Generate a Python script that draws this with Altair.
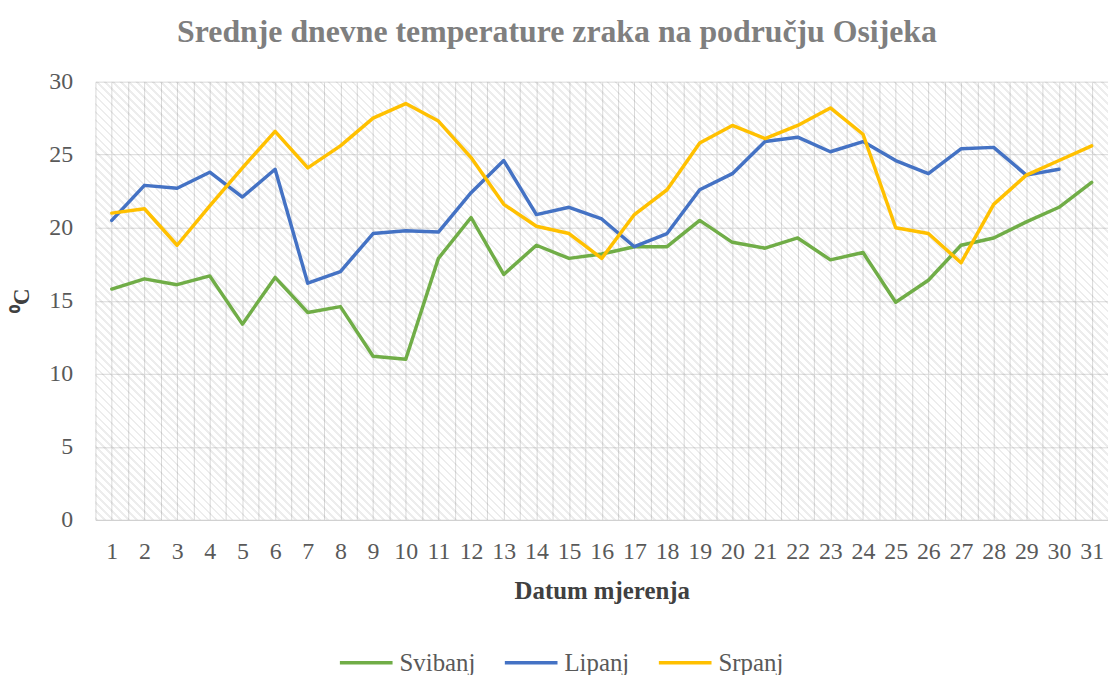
import altair as alt
import pandas as pd
import numpy as np

days = list(range(1, 32))
svibanj = [15.8, 16.5, 16.1, 16.7, 13.4, 16.6, 14.2, 14.6, 11.2, 11.0, 17.9, 20.7, 16.8, 18.8, 17.9,
           18.2, 18.7, 18.7, 20.5, 19.0, 18.6, 19.3, 17.8, 18.3, 14.9, 16.4, 18.8, 19.3, 20.4, 21.4, 23.1]
lipanj = [20.5, 22.9, 22.7, 23.8, 22.1, 24.0, 16.2, 17.0, 19.6, 19.8, 19.7, 22.4, 24.6, 20.9, 21.4,
          20.6, 18.7, 19.6, 22.6, 23.7, 25.9, 26.2, 25.2, 25.9, 24.6, 23.7, 25.4, 25.5, 23.6, 24.0]
srpanj = [21.0, 21.3, 18.8, 21.5, 24.1, 26.6, 24.1, 25.6, 27.5, 28.5, 27.3, 24.8, 21.6, 20.1, 19.6,
          17.9, 20.9, 22.6, 25.8, 27.0, 26.1, 27.0, 28.2, 26.4, 20.0, 19.6, 17.6, 21.6, 23.6, 24.6, 25.6]
series_names = ["Svibanj", "Lipanj", "Srpanj"]
series_colors = ["#70AD47", "#4472C4", "#FFC000"]
y_ticks = [0, 5, 10, 15, 20, 25, 30]

rows = []
for name, vals in zip(series_names, [svibanj, lipanj, srpanj]):
    for d, v in zip(days, vals):
        rows.append({"Dan": d, "Temp": v, "Mjesec": name})
df = pd.DataFrame(rows)

W, H = 1019, 441
FONT = "Liberation Serif"

# diagonal hatch pattern as a striped gradient
period = 8.0
n = int(round((W + H) / period))
k = (W + H) / (W ** 2 + H ** 2)
stripe = "rgba(0,0,0,0.07)"
clear = "rgba(255,255,255,0)"
stops = []
for i in range(n):
    a = i / n
    b = (i + 0.35) / n
    c = (i + 1) / n
    stops += [alt.GradientStop(offset=a, color=stripe), alt.GradientStop(offset=b, color=stripe),
              alt.GradientStop(offset=b, color=clear), alt.GradientStop(offset=c, color=clear)]
grad = alt.LinearGradient(gradient="linear", stops=stops, x1=0, y1=1, x2=k * W, y2=1 - k * H)

xscale = alt.Scale(domain=[0.5, 31.5], nice=False, zero=False)
yscale = alt.Scale(domain=[0, 30], nice=False)
grid_vals = [v / 2 for v in range(1, 64)]

x_axis = alt.Axis(
    values=grid_vals,
    labelExpr="datum.value % 1 == 0 ? format(datum.value, 'd') : ''",
    title="Datum mjerenja", ticks=False, grid=True, gridColor="#d9d9d9", gridWidth=1,
    domainColor="#d0d0d0", domainWidth=1,
    labelFont=FONT, labelFontSize=24, labelColor="#595959", labelPadding=20,
    labelOverlap=False, labelFlush=False,
    titleFont=FONT, titleFontSize=25, titleFontWeight="bold", titleColor="#404040",
    titleY=71, titleBaseline="middle",
)
y_axis = alt.Axis(
    values=y_ticks, title="⁰C", ticks=False, domain=False, grid=True,
    gridColor="#d9d9d9", gridWidth=1,
    labelFont=FONT, labelFontSize=24, labelColor="#595959", labelPadding=23,
    titleFont=FONT, titleFontSize=23, titleFontWeight="bold", titleColor="#404040",
    titleAngle=-90, titleX=-74, titleY=220, titleBaseline="middle", titleAlign="center",
)

bg = alt.Chart(pd.DataFrame({"x0": [0.5], "x1": [31.5], "y0": [0], "y1": [30]})).mark_rect(
    fill=grad, strokeWidth=0
).encode(
    x=alt.X("x0:Q", scale=xscale, axis=x_axis),
    x2="x1:Q",
    y=alt.Y("y0:Q", scale=yscale, axis=y_axis),
    y2="y1:Q",
)

lines = alt.Chart(df).mark_line(strokeWidth=3.5, strokeJoin="round", strokeCap="round").encode(
    x=alt.X("Dan:Q", scale=xscale, axis=x_axis),
    y=alt.Y("Temp:Q", scale=yscale, axis=y_axis),
    color=alt.Color("Mjesec:N", scale=alt.Scale(domain=series_names, range=series_colors),
                    sort=series_names,
                    legend=alt.Legend(
                        title=None, orient="none", legendX=244, legendY=556, direction="horizontal",
                        symbolType="stroke", symbolSize=2809, symbolStrokeWidth=3.5,
                        labelFont=FONT, labelFontSize=25, labelColor="#595959", labelOffset=5,
                        columnPadding=22, padding=0, labelLimit=300,
                    )),
    order="Dan:Q",
)

chart = alt.layer(bg, lines).properties(
    width=W, height=H,
    autosize=alt.AutoSizeParams(type="none"),
    padding={"left": 88, "top": 72, "right": 0, "bottom": 154},
    title=alt.Title(
        "Srednje dnevne temperature zraka na području Osijeka",
        font=FONT, fontSize=32, fontWeight="bold", color="#7f7f7f",
        anchor="middle", dx=-45, offset=21,
    ),
).configure_view(strokeWidth=0)

chart.save("out.html", embed_options={"renderer": "svg", "actions": False})
